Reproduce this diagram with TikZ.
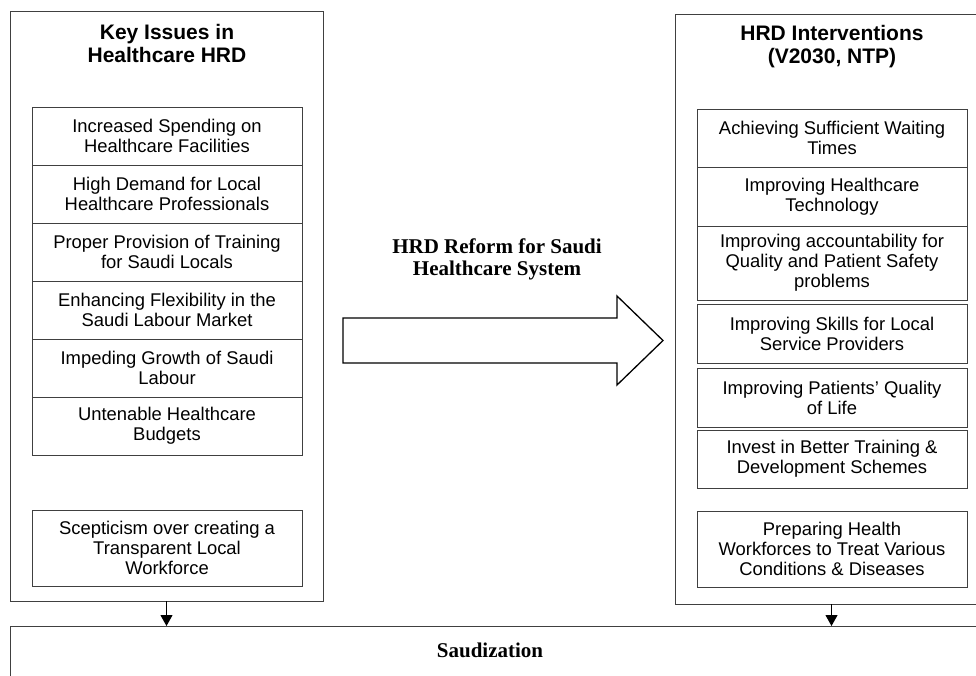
\documentclass[tikz,border=0pt]{standalone}
\usepackage{fontspec}
\setmainfont{Liberation Sans}
\newfontfamily\timesfont{Liberation Serif}
\usetikzlibrary{arrows.meta}

\tikzset{
  frame/.style={draw=black!75, line width=1pt, inner sep=0pt, outer sep=0pt},
  issue/.style={frame, minimum width=270pt, align=center, font=\fontsize{18.4}{20}\selectfont},
  heading/.style={align=center, font=\fontsize{21}{23}\selectfont\bfseries},
  serifhead/.style={align=center, font=\timesfont\fontsize{21}{22}\selectfont\bfseries},
  flow/.style={draw=black, line width=1pt, -{Triangle[length=11pt,width=12pt]}},
}

\begin{document}
\begin{tikzpicture}[x=1pt,y=-1pt]
    \useasboundingbox (0,0) rectangle (976,675);
    \clip (0,0) rectangle (976,675);
    \node[frame, minimum width=313pt, minimum height=590pt] (issues) at (166.5,306) {};
    \node[frame, minimum width=313pt, minimum height=590pt] (interv) at (831.5,309) {};
    \node[frame, minimum width=980pt, minimum height=80pt] (saud) at (500,666) {};
    \node[heading] (issuestitle) at (167,43.5) {Key Issues in\\Healthcare HRD};
    \node[heading] (intervtitle) at (832,46.5) {HRD Interventions\\(V2030, NTP)};
    \foreach \txt [count=\i] in {{Increased Spending on\\Healthcare Facilities},
        {High Demand for Local\\Healthcare Professionals},
        {Proper Provision of Training\\for Saudi Locals},
        {Enhancing Flexibility in the\\Saudi Labour Market},
        {Impeding Growth of Saudi\\Labour},
        {Untenable Healthcare\\Budgets}}
        \node[issue, minimum height=58pt] (issue\i) at (167,{78+58*\i}) {\txt};
    \node[issue, minimum height=76pt] (issue7) at (167,548) {Scepticism over creating a\\Transparent Local\\Workforce};
    \node[issue, minimum height=58pt] (step1) at (832,138) {Achieving Sufficient Waiting\\Times};
    \node[issue, minimum height=59pt] (step2) at (832,196.5) {Improving Healthcare\\Technology};
    \node[issue, minimum height=74pt] (step3) at (832,263) {Improving accountability for\\Quality and Patient Safety\\problems};
    \node[issue, minimum height=59pt] (step4) at (832,333.5) {Improving Skills for Local\\Service Providers};
    \node[issue, minimum height=59pt] (step5) at (832,397.5) {Improving Patients’ Quality\\of Life};
    \node[issue, minimum height=58pt] (step6) at (832,459) {Invest in Better Training \&\\Development Schemes};
    \node[issue, minimum height=76pt] (step7) at (832,549) {Preparing Health\\Workforces to Treat Various\\Conditions \& Diseases};
    \node[serifhead] (reformlabel) at (497,259) {HRD Reform for Saudi\\Healthcare System};
    \draw[line width=1.3pt] (343,318) -- (617,318) -- (617,296) -- (663,340.5) -- (617,385) -- (617,363) -- (343,363) -- cycle;
    \node[serifhead] (saudlabel) at (490,650) {Saudization};
    \draw[flow] (issues.south) -- (issues.south |- saud.north);
    \draw[flow] (interv.south) -- (interv.south |- saud.north);
\end{tikzpicture}
\end{document}
